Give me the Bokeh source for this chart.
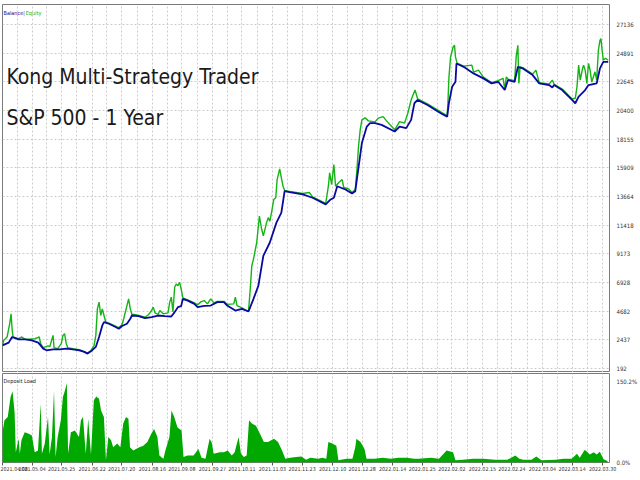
from bokeh.plotting import figure
from bokeh.layouts import column
from bokeh.models import FixedTicker, Label, Range1d, CustomJSTickFormatter
from bokeh.embed import file_html
from bokeh.resources import INLINE

# ---------------- data ----------------
date_labels = ["2021.04.08", "2021.05.04", "2021.05.25", "2021.06.22", "2021.07.20",
               "2021.08.16", "2021.09.08", "2021.09.27", "2021.10.11", "2021.11.03",
               "2021.11.23", "2021.12.10", "2021.12.28", "2022.01.14", "2022.01.25",
               "2022.02.02", "2022.02.15", "2022.02.24", "2022.03.04", "2022.03.14",
               "2022.03.30"]
date_ticks = [2, 32, 62, 93, 123, 154, 184, 215, 245, 276, 306, 337, 367, 398, 428,
              458, 489, 519, 550, 580, 611]

y_ticks = [192, 2437, 4682, 6928, 9173, 11418, 13664, 15909, 18155, 20400, 22645, 24891, 27136]

bal_x = [2, 8.3, 11.7, 18.3, 25, 31.7, 38.3, 43.3, 46.7, 53.3, 60, 66.7, 73.3, 80, 85, 88.3,
         91.7, 96.7, 100, 103.3, 105, 110, 116.7, 120, 123.3, 128.3, 131.7, 133.3, 140, 146.7,
         153.3, 160, 166.7, 173.3, 176.7, 180, 183.3, 185, 190, 196.7, 200, 206.7, 213.3, 220,
         226.7, 230, 238.3, 245, 251.7, 256.7, 261.7, 266.7, 273.3, 280, 285, 288.3, 293.3,
         306.7, 316.7, 330, 335, 338.3, 341.7, 350, 356.7, 360, 366.7, 371.7, 375, 380, 386.7,
         400, 405, 411.7, 416.7, 420, 423.3, 433.3, 446.7, 453.3, 455, 458.3, 461.7, 462.7,
         470, 480, 490, 498.3, 505, 511.7, 515, 521.7, 525, 530, 540, 546.7, 556.7, 560,
         561.7, 570, 580, 583.3, 586.7, 593.3, 596.7, 605, 608.3, 611.7, 616.7]
bal_v = [2007, 2217, 2661, 2474, 2474, 2396, 2217, 1750, 1617, 1695, 1695, 1750, 1695, 1617,
         1493, 1360, 1539, 1882, 2661, 3564, 3829, 3697, 3440, 3307, 3518, 3697, 4086, 4343,
         4296, 4141, 4218, 4343, 4296, 4265, 4608, 4997, 5075, 5644, 5511, 5254, 4997, 5098,
         5122, 5387, 5387, 5122, 4732, 4865, 4655, 5644, 6679, 9016, 10059, 11617, 12396,
         14078, 14000, 13821, 13564, 13042, 13432, 13564, 14467, 14210, 13899, 14078, 17847,
         19140, 19405, 19405, 19273, 18751, 19140, 19016, 19662, 20963, 21220, 20830, 20184,
         19919, 20963, 22256, 22645, 24078, 23813, 23299, 22910, 22520, 22645, 21998, 22777,
         22645, 23813, 23688, 23167, 22520, 22388, 22200, 22388, 21998, 21220, 20963, 21477,
         21998, 22388, 22520, 23688, 24203, 24203]

eq_x = [2, 3.3, 6.7, 9.3, 10.7, 11.7, 12.7, 18.3, 21.7, 25, 35, 39.3, 40.7, 43.3, 48.3, 50,
        53.3, 54.3, 58, 61.7, 63.3, 65, 66.7, 68.3, 73.3, 80, 85, 88.3, 91.7, 95, 96.7, 98.3,
        100, 101.7, 103.3, 105, 106.7, 110, 116.7, 120, 123.3, 125, 128.3, 130, 131.7, 133.3,
        140, 146.7, 150, 153.3, 155, 156.7, 160, 161.7, 165, 170, 171.7, 173.3, 175, 176.7,
        178.3, 180, 181.7, 183.3, 185, 190, 196.7, 200, 203.3, 206.7, 210, 213.3, 216.7, 220,
        226.7, 230, 236.7, 238.3, 240, 245, 250, 251.7, 253.3, 255, 256.7, 260, 262.7, 265,
        266.7, 270, 271.7, 273.3, 275, 277.3, 279.3, 280.7, 283.3, 285, 286.7, 288.3, 293.3,
        306.7, 313.3, 316.7, 330, 332.7, 334, 336, 338.3, 340, 343.3, 346.7, 348.3, 353.3,
        356.7, 360, 361.7, 363.3, 365, 366.7, 370, 373.3, 380, 383.3, 388.3, 391.7, 400, 405,
        410, 413.3, 416.7, 419.3, 420.7, 423.3, 433.3, 440, 446.7, 451.7, 453.3, 454, 455,
        456.7, 459.3, 460.7, 461.7, 463.3, 470, 478.3, 480, 485, 490, 498.3, 505, 510, 511.7,
        513.3, 515, 521.7, 523.3, 525, 526, 527.3, 530, 540, 543.3, 546.7, 556.7, 560, 561.7,
        570, 580, 583.3, 585, 586.7, 588.3, 590.7, 591.7, 593.3, 595, 596.7, 598.3, 600,
        603.3, 605, 606.7, 608.3, 609.3, 610.5, 611.7, 614, 616.7]
eq_v = [2007, 2396, 2661, 3697, 4475, 3307, 2661, 2528, 2661, 2474, 2528, 2661, 2139, 1827,
        1960, 1905, 2785, 1827, 1750, 2139, 2785, 2918, 2139, 1827, 1750, 1672, 1516, 1399,
        1594, 2007, 2785, 4865, 5387, 4343, 4865, 4343, 3852, 3736, 3502, 3385, 3619, 4086,
        5122, 5644, 4865, 4436, 4359, 4203, 4398, 4732, 4997, 4553, 4436, 4732, 4475, 4553,
        5387, 5776, 4631, 6555, 6812, 6679, 6944, 6422, 5721, 5566, 5332, 5176, 5410, 5511,
        5254, 5644, 5332, 5449, 5449, 5215, 5254, 5776, 5122, 4943, 4709, 4732, 6290, 8237,
        8759, 10059, 12131, 11095, 10573, 11617, 12006, 11718, 12396, 13432, 13564, 14989,
        15823, 15122, 14467, 14133, 14055, 13899, 13977, 13626, 13120, 14467, 15511, 14600,
        16157, 14467, 14756, 14989, 14366, 14249, 13977, 14210, 15768, 17583, 18883, 19662,
        19818, 19584, 19506, 19794, 19919, 19584, 18883, 19530, 19405, 20184, 21220, 21741,
        21998, 21297, 20908, 20597, 20285, 20051, 20012, 20963, 22910, 24592, 25371, 25503,
        24592, 24101, 23868, 23945, 23400, 23556, 23011, 22583, 22738, 22910, 22076, 23034,
        22855, 22738, 24592, 25503, 22520, 23813, 23751, 23244, 23556, 22583, 22466, 22777,
        22466, 22076, 21297, 21352, 22256, 23945, 22777, 23688, 23945, 23556, 22520, 24078,
        23556, 22621, 23424, 22777, 25114, 25892, 26025, 25114, 24335, 24491, 24335]

load_x = [2, 4, 7.3, 10.2, 12.2, 14.3, 15.5, 18.4, 19.6, 21.2, 24.5, 28.6, 31.8, 34.7, 38,
          40.8, 42, 44.9, 48.2, 49.8, 52.2, 54.3, 55.9, 58, 61.2, 63.3, 65.3, 67.3, 68.6, 71.4,
          75.5, 79.6, 81.6, 83.7, 86.5, 89, 91.8, 94.7, 97.1, 100, 102, 104.9, 107, 109.4,
          112.2, 114.3, 118.4, 121.6, 124.5, 127.3, 129.8, 131.4, 134.7, 140.8, 144.9, 149,
          153, 155.9, 159.2, 161.2, 165.3, 167.3, 171.4, 173.5, 176.3, 179.6, 183.7, 185.7,
          189.8, 195.9, 200.8, 204, 208, 212.2, 214.3, 216.3, 222.4, 226.5, 230.6, 234.7,
          237.6, 241.6, 244, 247, 249.8, 252.2, 255.1, 259.2, 263.3, 267.3, 271.4, 277.6,
          281.6, 285.7, 289, 293.9, 300, 305.3, 310.2, 314.3, 322.4, 326.5, 330.6, 332.7,
          336.7, 340.8, 342.9, 351, 357.1, 360, 361.2, 365.3, 369.4, 371.4, 379.6, 387.8, 396,
          404, 412.2, 420, 424.5, 436.7, 444.9, 452.7, 459.2, 461.7, 469, 479.6, 489.8, 502,
          514.3, 522.4, 526.5, 530.6, 538.8, 543.7, 549, 563.3, 571.4, 579.6, 585, 587.8,
          592.7, 593.9, 598, 602, 605, 608.2, 612, 616]
load_v = [56, 78, 84, 121, 132, 92, 19, 44, 16, 41, 56, 53, 50, 19, 22, 109, 16, 35, 84, 15,
          47, 133, 10, 47, 78, 121, 133, 147, 16, 56, 59, 47, 78, 84, 16, 81, 15, 115, 122,
          118, 96, 84, 4, 47, 41, 28, 35, 28, 72, 84, 81, 28, 22, 28, 31, 38, 53, 62, 47, 13,
          7, 22, 47, 96, 84, 65, 59, 10, 13, 13, 25, 9, 7, 44, 37, 16, 19, 19, 22, 13, 19, 47,
          16, 10, 13, 78, 72, 68, 53, 38, 38, 44, 38, 22, 7, 9, 10, 11, 5, 9, 7, 9, 7, 38, 35,
          31, 4, 7, 7, 28, 44, 38, 25, 7, 7, 9, 7, 9, 9, 7, 7, 9, 7, 22, 19, 4, 5, 7, 7, 5, 5,
          13, 7, 5, 5, 11, 4, 5, 7, 7, 16, 9, 23, 22, 15, 19, 15, 20, 6, 3]
load_max = 150.2

# ---------------- styling ----------------
SMALL = "DejaVu Sans Condensed"
TITLE = "DejaVu Sans Condensed"
GRID = "#cccccc"
BLUE = "#0a0aa0"
GREEN = "#14b414"
FILL = "#00a800"
FRAME = "#7a7a7a"

grid_ticks = sorted(date_ticks + [(a + b) / 2 for a, b in zip(date_ticks[:-1], date_ticks[1:])])

x_rng = Range1d(2, 618)

# ---------------- main panel ----------------
p = figure(width=640, height=372, output_backend="svg", toolbar_location=None,
           x_range=x_rng, y_range=Range1d(-120, 28696),
           y_axis_location="right", x_axis_location=None,
           min_border_left=2, min_border_top=4, min_border_bottom=0, min_border_right=22)
p.background_fill_color = "white"
p.border_fill_color = "white"
p.outline_line_color = FRAME
p.xgrid.ticker = FixedTicker(ticks=grid_ticks)
p.ygrid.ticker = FixedTicker(ticks=y_ticks)
for g in (p.xgrid, p.ygrid):
    g.grid_line_color = GRID
    g.grid_line_dash = "2 2"
ax = p.yaxis[0]
ax.ticker = FixedTicker(ticks=y_ticks)
ax.major_label_overrides = {t: str(t) for t in y_ticks}
ax.axis_line_color = None
ax.major_tick_line_color = None
ax.minor_tick_line_color = None
ax.major_label_standoff = 1
ax.major_label_text_font_size = "6px"
ax.major_label_text_font = SMALL
ax.major_label_text_color = "#333333"

p.line(eq_x, eq_v, line_color=GREEN, line_width=1.4)
p.line(bal_x, bal_v, line_color=BLUE, line_width=1.8)

p.add_layout(Label(x=6, y=23000, text="Kong Multi-Strategy Trader", text_font=TITLE,
                   text_font_size="21px", text_color="#1a1a1a", text_baseline="middle"))
p.add_layout(Label(x=6, y=19770, text="S&P 500 - 1 Year", text_font=TITLE,
                   text_font_size="21px", text_color="#1a1a1a", text_baseline="middle"))
p.add_layout(Label(x=3, y=28050, text="Balance", text_font=SMALL, text_font_size="5.5px",
                   text_color=BLUE, text_baseline="middle"))
p.add_layout(Label(x=23, y=28050, text="|", text_font=SMALL, text_font_size="5.5px",
                   text_color="#555555", text_baseline="middle"))
p.add_layout(Label(x=25.5, y=28050, text="Equity", text_font=SMALL, text_font_size="5.5px",
                   text_color=GREEN, text_baseline="middle"))

# ---------------- deposit load panel ----------------
q = figure(width=640, height=108, output_backend="svg", toolbar_location=None,
           x_range=x_rng, y_range=Range1d(0, 164.7),
           y_axis_location="right",
           min_border_left=2, min_border_top=1, min_border_bottom=18, min_border_right=22)
q.background_fill_color = "white"
q.border_fill_color = "white"
q.outline_line_color = FRAME
q.xgrid.ticker = FixedTicker(ticks=grid_ticks)
q.xgrid.grid_line_color = GRID
q.xgrid.grid_line_dash = "2 2"
q.ygrid.visible = False

q.varea(x=load_x, y1=0, y2=load_v, fill_color=FILL)

xa = q.xaxis[0]
xa.ticker = FixedTicker(ticks=date_ticks)
xa.major_label_overrides = {t: s for t, s in zip(date_ticks, date_labels)}
xa.major_label_text_align = "left"
xa.major_label_text_font_size = "5.3px"
xa.major_label_text_font = SMALL
xa.major_label_text_color = "#333333"
xa.major_label_standoff = 1
xa.axis_line_color = None
xa.major_tick_in = 0
xa.major_tick_out = 3
xa.major_tick_line_color = "#555555"
xa.minor_tick_line_color = None

ya = q.yaxis[0]
ya.ticker = FixedTicker(ticks=[0, load_max])
ya.formatter = CustomJSTickFormatter(code="return tick.toFixed(1) + '%';")
ya.axis_line_color = None
ya.major_tick_line_color = None
ya.minor_tick_line_color = None
ya.major_label_standoff = 1
ya.major_label_text_font_size = "6px"
ya.major_label_text_font = SMALL
ya.major_label_text_color = "#333333"

q.add_layout(Label(x=3, y=150, text="Deposit Load", text_font=SMALL, text_font_size="5.5px",
                   text_color="#222222", text_baseline="middle"))

layout = column(p, q, spacing=0)
open("out.html", "w").write(file_html(layout, INLINE))
